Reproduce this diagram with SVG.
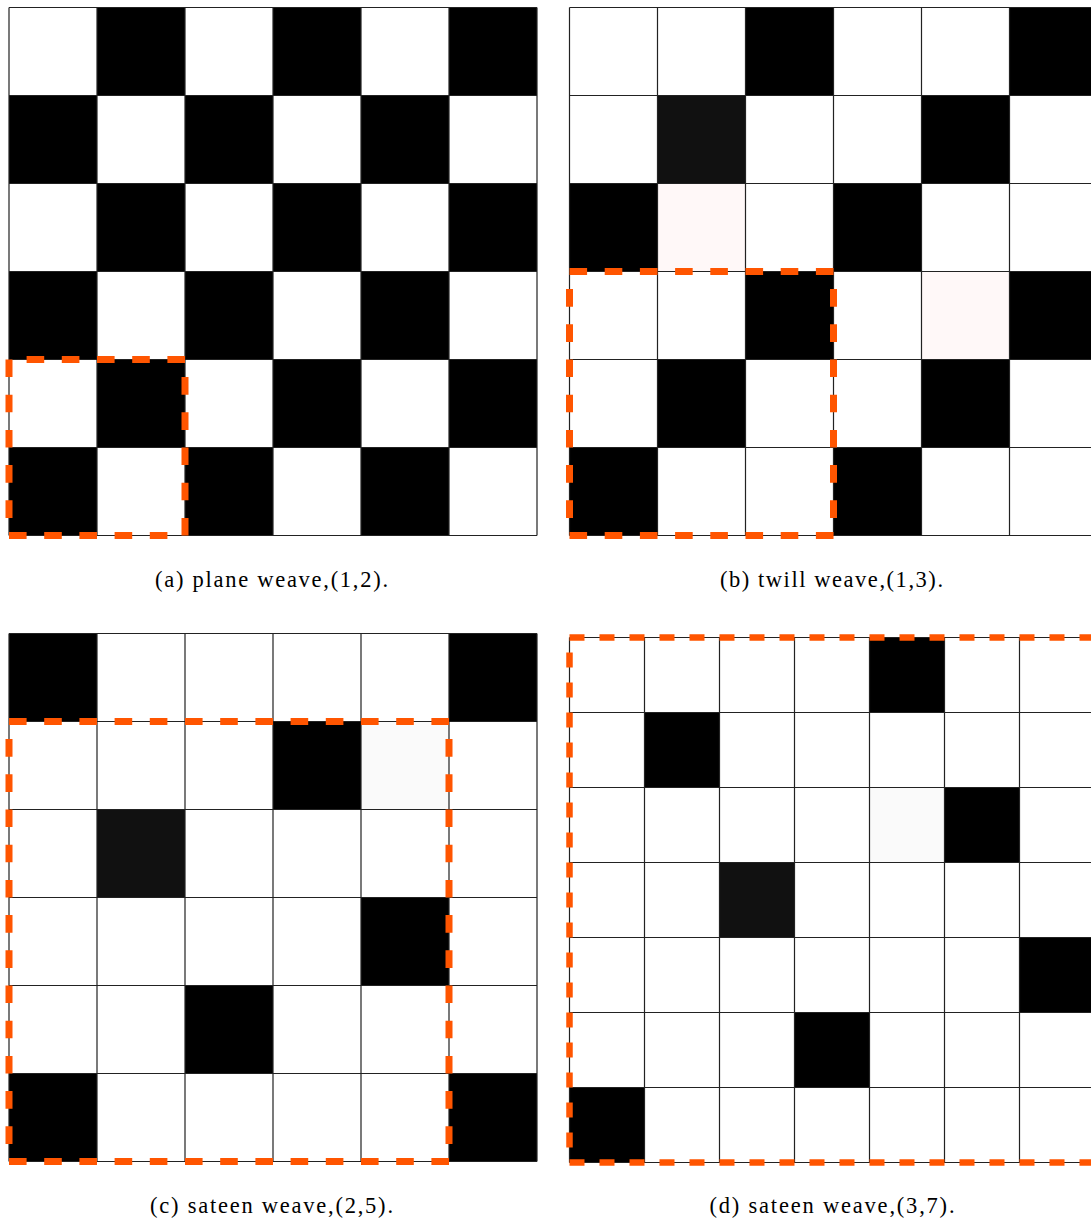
<svg xmlns="http://www.w3.org/2000/svg" width="1091" height="1221" viewBox="0 0 1091 1221">
<style>
.bg{fill:#fff}
.k{fill:#000}
.grid{fill:none;stroke:#222;stroke-width:1.2}
.sel{fill:none;stroke:#ff5500;stroke-width:7}
.sa{stroke-dasharray:17.6;stroke-dashoffset:17.6}
.sd{stroke-dasharray:15;stroke-dashoffset:15;stroke-width:6.5}
.cap{font-family:"Liberation Serif","Times New Roman",serif;font-size:22.5px;fill:#000;text-anchor:middle}
</style>
<rect width="1091" height="1221" fill="#fff"/>

<g id="panel-a">
<rect class="bg" x="9" y="7.5" width="528" height="528"/>
<g class="k">
<rect x="97" y="7.5" width="88" height="88"/><rect x="273" y="7.5" width="88" height="88"/><rect x="449" y="7.5" width="88" height="88"/>
<rect x="9" y="95.5" width="88" height="88"/><rect x="185" y="95.5" width="88" height="88"/><rect x="361" y="95.5" width="88" height="88"/>
<rect x="97" y="183.5" width="88" height="88"/><rect x="273" y="183.5" width="88" height="88"/><rect x="449" y="183.5" width="88" height="88"/>
<rect x="9" y="271.5" width="88" height="88"/><rect x="185" y="271.5" width="88" height="88"/><rect x="361" y="271.5" width="88" height="88"/>
<rect x="97" y="359.5" width="88" height="88"/><rect x="273" y="359.5" width="88" height="88"/><rect x="449" y="359.5" width="88" height="88"/>
<rect x="9" y="447.5" width="88" height="88"/><rect x="185" y="447.5" width="88" height="88"/><rect x="361" y="447.5" width="88" height="88"/>
</g>
<path class="grid" d="M9,7.5V535.5M97,7.5V535.5M185,7.5V535.5M273,7.5V535.5M361,7.5V535.5M449,7.5V535.5M537,7.5V535.5M9,7.5H537M9,95.5H537M9,183.5H537M9,271.5H537M9,359.5H537M9,447.5H537M9,535.5H537"/>
<path class="sel sa" d="M9,535.5V359.5H185V535.5Z"/>
<text class="cap" x="271.5" y="587" textLength="233" lengthAdjust="spacing">(a) plane weave,(1,2).</text>
</g>

<g id="panel-b">
<rect class="bg" x="569.5" y="7.5" width="528" height="528"/>
<g class="k">
<rect x="745.5" y="7.5" width="88" height="88"/><rect x="1009.5" y="7.5" width="88" height="88"/>
<rect x="657.5" y="95.5" width="88" height="88" fill="#111"/><rect x="921.5" y="95.5" width="88" height="88"/>
<rect x="569.5" y="183.5" width="88" height="88"/><rect x="833.5" y="183.5" width="88" height="88"/>
<rect x="745.5" y="271.5" width="88" height="88"/><rect x="1009.5" y="271.5" width="88" height="88"/>
<rect x="657.5" y="359.5" width="88" height="88"/><rect x="921.5" y="359.5" width="88" height="88"/>
<rect x="569.5" y="447.5" width="88" height="88"/><rect x="833.5" y="447.5" width="88" height="88"/>
</g>
<rect x="657.5" y="183.5" width="88" height="88" fill="#fff8f8"/>
<rect x="921.5" y="271.5" width="88" height="88" fill="#fff8f8"/>
<path class="grid" d="M569.5,7.5V535.5M657.5,7.5V535.5M745.5,7.5V535.5M833.5,7.5V535.5M921.5,7.5V535.5M1009.5,7.5V535.5M1097.5,7.5V535.5M569.5,7.5H1097.5M569.5,95.5H1097.5M569.5,183.5H1097.5M569.5,271.5H1097.5M569.5,359.5H1097.5M569.5,447.5H1097.5M569.5,535.5H1097.5"/>
<path class="sel sa" d="M569.5,535.5V271.5H833.5V535.5Z"/>
<text class="cap" x="831.5" y="587" textLength="223" lengthAdjust="spacing">(b) twill weave,(1,3).</text>
</g>

<g id="panel-c">
<rect class="bg" x="9" y="633.5" width="528" height="528"/>
<g class="k">
<rect x="9" y="633.5" width="88" height="88"/><rect x="449" y="633.5" width="88" height="88"/>
<rect x="273" y="721.5" width="88" height="88"/>
<rect x="97" y="809.5" width="88" height="88" fill="#111"/>
<rect x="361" y="897.5" width="88" height="88"/>
<rect x="185" y="985.5" width="88" height="88"/>
<rect x="9" y="1073.5" width="88" height="88"/><rect x="449" y="1073.5" width="88" height="88"/>
</g>
<rect x="361" y="721.5" width="88" height="88" fill="#fafafa"/>
<path class="grid" d="M9,633.5V1161.5M97,633.5V1161.5M185,633.5V1161.5M273,633.5V1161.5M361,633.5V1161.5M449,633.5V1161.5M537,633.5V1161.5M9,633.5H537M9,721.5H537M9,809.5H537M9,897.5H537M9,985.5H537M9,1073.5H537M9,1161.5H537"/>
<path class="sel sa" d="M9,1161.5V721.5H449V1161.5Z"/>
<text class="cap" x="271.5" y="1213" textLength="243" lengthAdjust="spacing">(c) sateen weave,(2,5).</text>
</g>

<g id="panel-d">
<rect class="bg" x="569.5" y="637.5" width="525" height="525"/>
<g class="k">
<rect x="869.5" y="637.5" width="75" height="75"/>
<rect x="644.5" y="712.5" width="75" height="75"/>
<rect x="944.5" y="787.5" width="75" height="75"/>
<rect x="719.5" y="862.5" width="75" height="75" fill="#111"/>
<rect x="1019.5" y="937.5" width="75" height="75"/>
<rect x="794.5" y="1012.5" width="75" height="75"/>
<rect x="569.5" y="1087.5" width="75" height="75"/>
</g>
<rect x="869.5" y="787.5" width="75" height="75" fill="#fafafa"/>
<path class="grid" d="M569.5,637.5V1162.5M644.5,637.5V1162.5M719.5,637.5V1162.5M794.5,637.5V1162.5M869.5,637.5V1162.5M944.5,637.5V1162.5M1019.5,637.5V1162.5M1094.5,637.5V1162.5M569.5,637.5H1094.5M569.5,712.5H1094.5M569.5,787.5H1094.5M569.5,862.5H1094.5M569.5,937.5H1094.5M569.5,1012.5H1094.5M569.5,1087.5H1094.5M569.5,1162.5H1094.5"/>
<path class="sel sd" d="M569.5,1162.5V637.5H1094.5V1162.5Z"/>
<text class="cap" x="832" y="1213" textLength="245" lengthAdjust="spacing">(d) sateen weave,(3,7).</text>
</g>
</svg>
